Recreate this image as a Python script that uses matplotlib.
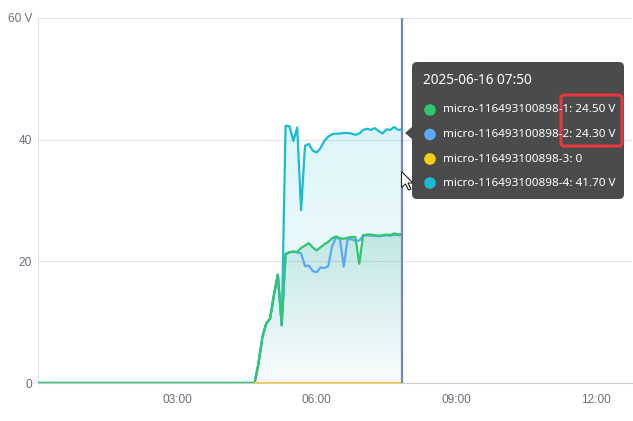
import numpy as np
import matplotlib
matplotlib.use('Agg')
from matplotlib import pyplot as plt
from matplotlib.colors import to_rgb
from matplotlib.patches import FancyBboxPatch, Polygon

## Data (5 minute samples, volts)
date = '2025-06-16'
times = ['00:00', '04:40', '04:45', '04:50', '04:55', '05:00', '05:05', '05:10', '05:15',
         '05:20', '05:25', '05:30', '05:35', '05:40', '05:45', '05:50', '05:55', '06:00',
         '06:05', '06:10', '06:15', '06:20', '06:25', '06:30', '06:35', '06:40', '06:45',
         '06:50', '06:55', '07:00', '07:05', '07:10', '07:15', '07:20', '07:25', '07:30',
         '07:35', '07:40', '07:45', '07:50']
names = ['micro-116493100898-1', 'micro-116493100898-2',
         'micro-116493100898-3', 'micro-116493100898-4']
v1 = [0, 0, 3.2, 7.5, 9.8, 10.6, 14.5, 17.8, 9.5, 21.2, 21.5, 21.6, 21.5, 22.2, 22.6,
      23.0, 22.3, 21.8, 22.3, 22.8, 23.2, 23.8, 24.1, 23.8, 23.7, 23.9, 24.0, 24.0, 19.6,
      24.3, 24.4, 24.4, 24.3, 24.2, 24.3, 24.4, 24.3, 24.6, 24.4, 24.5]
v2 = [0, 0, 3.2, 7.5, 9.8, 10.6, 14.5, 17.8, 9.5, 21.2, 21.5, 21.6, 21.5, 21.3, 19.2,
      19.3, 18.4, 18.2, 19.0, 18.9, 19.2, 22.5, 23.9, 23.7, 19.1, 23.7, 23.6, 23.4, 23.4,
      24.2, 24.3, 24.2, 24.2, 24.1, 24.2, 24.3, 24.2, 24.4, 24.3, 24.3]
v3 = [np.nan, 0, 0, 0, 0, 0, 0, 0, 0, 0, 0, 0, 0, 0, 0, 0, 0, 0, 0, 0, 0, 0, 0, 0, 0,
      0, 0, 0, 0, 0, 0, 0, 0, 0, 0, 0, 0, 0, 0, 0]
v4 = [0, 0, 3.2, 7.5, 9.8, 10.6, 14.5, 17.8, 9.5, 42.3, 42.2, 39.8, 42.0, 28.4, 39.0,
      39.3, 38.2, 37.9, 38.6, 39.8, 40.5, 40.9, 41.0, 41.0, 41.1, 41.1, 41.0, 40.8, 41.0,
      41.6, 41.8, 41.6, 41.9, 41.4, 41.0, 41.7, 41.6, 42.1, 41.6, 41.7]
xticks_lbl = ['03:00', '06:00', '09:00', '12:00']
yticks_val = [0, 20, 40, 60]

colors = ['#2ec66e', '#5ca8f5', '#f8cf13', '#17bdd4']

def to_h(s):
    hh, mm = s.split(':')
    return int(hh) + int(mm) / 60.

t = np.array([to_h(s) for s in times])
series = [np.array(v, dtype=float) for v in (v1, v2, v3, v4)]

def gradient_fill(ax, x, y, color, a_top, a_bot, z):
    poly = ax.fill_between(x, y, 0, facecolor='none', edgecolor='none')
    grad = np.zeros((200, 1, 4))
    grad[:, :, :3] = to_rgb(color)
    grad[:, 0, 3] = np.linspace(a_top, a_bot, 200)
    im = ax.imshow(grad, aspect='auto', origin='upper', zorder=z,
                   extent=[x.min(), x.max(), 0, np.nanmax(y)], interpolation='bilinear')
    im.set_clip_path(poly.get_paths()[0], transform=ax.transData)

fig = plt.figure(figsize=(6.33, 4.21), dpi=100)
ax = fig.add_axes([37.5 / 633, 1 - 383 / 421, (632 - 37.5) / 633, (383 - 18) / 421])

## gradient areas (cyan behind, green on top)
gradient_fill(ax, t, series[3], colors[3], 0.15, 0.02, 1)
gradient_fill(ax, t, series[0], '#1f9e8a', 0.20, 0.0, 1.5)

## lines: cyan at the back, then blue, green, yellow on top
zs = {3: 3.0, 1: 3.1, 0: 3.2, 2: 3.3}
for idx in [3, 1, 0, 2]:
    ax.plot(t, series[idx], color=colors[idx], lw=1.6, zorder=zs[idx],
            solid_joinstyle='round')

## cursor line
ax.axvline(t[-1], color='#7489ad', lw=1.6, zorder=5)

ax.set_xlim(0, 12.78)
ax.set_ylim(0, 60)
ax.set_yticks(yticks_val)
ax.set_yticklabels([str(v) for v in yticks_val[:-1]] + ['%d V' % yticks_val[-1]])
ax.set_xticks([to_h(s) for s in xticks_lbl])
ax.set_xticklabels(xticks_lbl)
ax.tick_params(length=0, colors='#6e7079', labelsize=8.6, pad=8)
ax.tick_params(axis='y', pad=4)
for lab in ax.get_xticklabels() + ax.get_yticklabels():
    lab.set_family(['Liberation Sans', 'DejaVu Sans'])
ax.grid(axis='y', color='#e3e3e3', lw=0.8)
ax.set_axisbelow(True)
for s in ['top', 'right']:
    ax.spines[s].set_visible(False)
ax.spines['left'].set_color('#e3e3e3')
ax.spines['bottom'].set_color('#cccccc')
ax.spines['left'].set_linewidth(0.8)
ax.spines['bottom'].set_linewidth(0.8)

## tooltip overlay in pixel coordinates
ov = fig.add_axes([0, 0, 1, 1])
ov.set_xlim(0, 633)
ov.set_ylim(421, 0)
ov.axis('off')
ov.add_patch(FancyBboxPatch((412, 62), 212, 137, boxstyle='round,pad=0,rounding_size=5',
                            facecolor='#4b4b4b', edgecolor='none'))
ov.add_patch(Polygon([(412, 127), (405, 133), (412, 139)], closed=True,
                     facecolor='#4b4b4b', edgecolor='none'))
ov.text(423, 81, date + ' ' + times[-1], color='white', fontsize=9.8,
        family=['Noto Sans', 'DejaVu Sans'], va='center', ha='left')
row_y = [110, 134.5, 159, 183]
for i, s in enumerate(series):
    last = s[-1]
    val = '0' if last == 0 else '%.2f V' % last
    ov.scatter([430], [row_y[i]], s=70, color=colors[i], edgecolors='none')
    ov.text(443, row_y[i], names[i] + ': ' + val, color='white', fontsize=8.4,
            family=['Noto Sans', 'DejaVu Sans'], va='center', ha='left')
ov.add_patch(FancyBboxPatch((561, 95), 61, 51, boxstyle='round,pad=0,rounding_size=3',
                            facecolor='none', edgecolor='#e8383d', lw=2.2))

## mouse pointer
tip_x, tip_y = 401.5, 171.5
ptr = [(0, 0), (0, 16), (4, 12.5), (7, 18.5), (9.5, 17.5), (6.5, 11.5), (11.5, 11.5)]
ov.add_patch(Polygon([(tip_x + a, tip_y + b) for a, b in ptr], closed=True,
                     facecolor='white', edgecolor='#222222', lw=0.8))

fig.savefig('out.png', dpi=100)
